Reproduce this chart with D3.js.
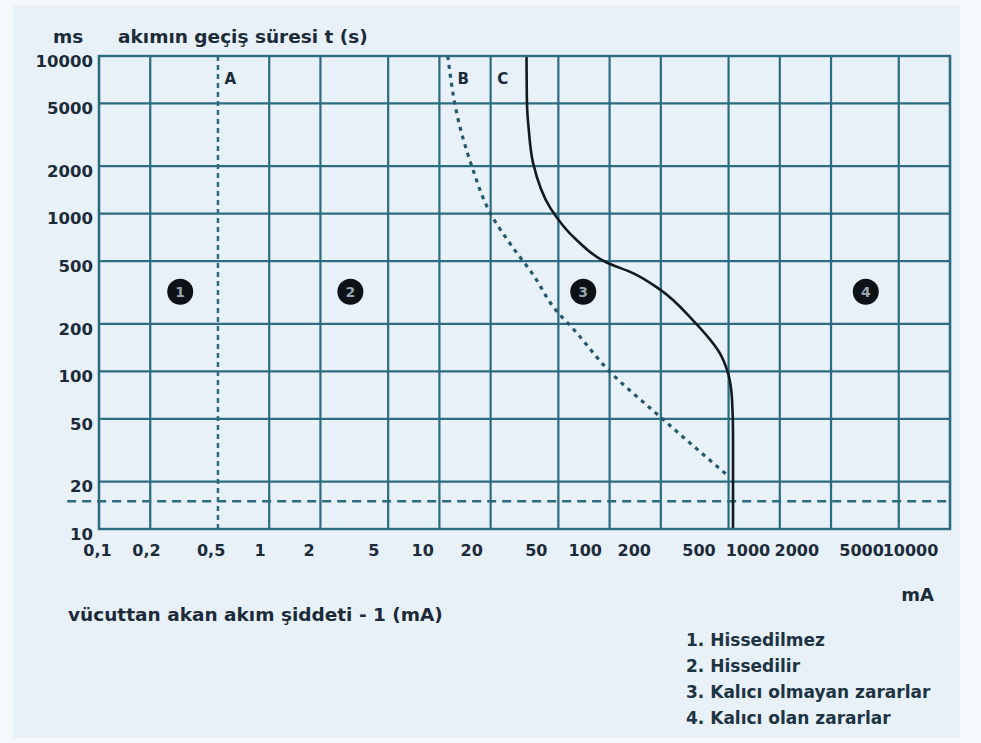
<!DOCTYPE html>
<html>
<head>
<meta charset="utf-8">
<script src="https://cdn.jsdelivr.net/npm/d3@7"></script>
<style>
  body { margin: 0; background: #f6f9fc; }
  text { font-family: "DejaVu Sans", sans-serif; font-weight: bold; fill: #1c2b38; }
</style>
</head>
<body>
<div id="container"></div>
<script>
// axis ticks (mA on x, ms on y)
const xTicks = [0.1, 0.2, 0.5, 1, 2, 5, 10, 20, 50, 100, 200, 500, 1000, 2000, 5000, 10000];
const yTicks = [10, 20, 50, 100, 200, 500, 1000, 2000, 5000, 10000];

// curve B (dotted)
const bCurrent = [11.2, 13, 15.5, 20, 27, 35, 49, 60, 100, 200, 490];
const bTime = [10000, 3800, 2000, 1000, 610, 420, 240, 190, 100, 51, 22];

// curve C (solid)
const cCurrent = [32.5, 32.7, 33.5, 35.5, 45, 64, 96, 137, 198, 310, 445, 497, 524, 531, 531];
const cTime = [10000, 5000, 3400, 2100, 1080, 680, 490, 420, 330, 210, 130, 97, 66, 40, 10];

// line A and the horizontal limit
const lineA = 0.5;
const limitTime = 15;
const limitFrom = 0.065;

// zone markers
const zoneNumbers = ["1", "2", "3", "4"];
const zoneCurrent = [0.3, 3, 70, 3200];
const zoneTime = 320;

// curve name labels
const curveNames = ["A", "B", "C"];
const curveNameCurrent = [0.59, 13.8, 23.6];
const curveNameTime = 7200;

const legendItems = ["1. Hissedilmez", "2. Hissedilir", "3. Kalıcı olmayan zararlar", "4. Kalıcı olan zararlar"];

const w = 981, h = 743;
const plotLeft = 99, plotRight = 950, plotTop = 56, plotBottom = 529;
const gridColor = "#2c6b80";

const xScale = d3.scaleLog().domain([0.1, 10000]).range([plotLeft, plotRight]);
const yScale = d3.scaleLog().domain([10, 10000]).range([plotBottom, plotTop]);
// tick labels in the picture sit a bit left of their lines
const xLabelScale = d3.scaleLog().domain([0.1, 10000]).range([97, 910]);

const svg = d3.select("#container").append("svg")
  .attr("width", w)
  .attr("height", h);

svg.append("rect")
  .attr("x", 13).attr("y", 5)
  .attr("width", 947).attr("height", 733)
  .attr("fill", "#e8f0f8");

// grid
svg.append("g").selectAll("line")
  .data(xTicks.filter(d => d !== lineA))
  .join("line")
  .attr("x1", d => xScale(d)).attr("x2", d => xScale(d))
  .attr("y1", yScale(10000)).attr("y2", yScale(10))
  .attr("stroke", gridColor).attr("stroke-width", 2.2);

svg.append("g").selectAll("line")
  .data(yTicks)
  .join("line")
  .attr("x1", xScale(0.1)).attr("x2", xScale(10000))
  .attr("y1", d => yScale(d)).attr("y2", d => yScale(d))
  .attr("stroke", gridColor).attr("stroke-width", 2.2);

// dashed lines
svg.append("line")
  .attr("x1", xScale(lineA)).attr("x2", xScale(lineA))
  .attr("y1", yScale(10000)).attr("y2", yScale(10))
  .attr("stroke", gridColor).attr("stroke-width", 2.5)
  .attr("stroke-dasharray", "5,4");

svg.append("line")
  .attr("x1", xScale(limitFrom)).attr("x2", xScale(10000))
  .attr("y1", yScale(limitTime)).attr("y2", yScale(limitTime))
  .attr("stroke", gridColor).attr("stroke-width", 2.5)
  .attr("stroke-dasharray", "9,6");

// curves
const line = d3.line()
  .x(d => xScale(d[0]))
  .y(d => yScale(d[1]))
  .curve(d3.curveMonotoneY);

svg.append("path")
  .datum(d3.zip(bCurrent, bTime))
  .attr("d", line)
  .attr("fill", "none")
  .attr("stroke", "#24586a")
  .attr("stroke-width", 3.2)
  .attr("stroke-dasharray", "4,5");

svg.append("path")
  .datum(d3.zip(cCurrent, cTime))
  .attr("d", line)
  .attr("fill", "none")
  .attr("stroke", "#111a20")
  .attr("stroke-width", 2.6);

// axes
const xAxis = d3.axisBottom(xLabelScale)
  .tickValues(xTicks)
  .tickSize(0)
  .tickPadding(16)
  .tickFormat(d => String(d).replace(".", ","));

const yAxis = d3.axisLeft(yScale)
  .tickValues(yTicks)
  .tickSize(0)
  .tickPadding(6)
  .tickFormat(d => String(d));

svg.append("g")
  .attr("transform", "translate(0," + plotBottom + ")")
  .call(xAxis)
  .attr("font-size", 16).attr("font-family", null)
  .call(g => g.select(".domain").remove());

svg.append("g")
  .attr("transform", "translate(" + plotLeft + ",0)")
  .call(yAxis)
  .attr("font-size", 16.5).attr("font-family", null)
  .call(g => g.select(".domain").remove())
  .call(g => g.selectAll("text").attr("y", 5));

// frame
svg.append("rect")
  .attr("x", xScale(0.1)).attr("y", yScale(10000))
  .attr("width", xScale(10000) - xScale(0.1))
  .attr("height", yScale(10) - yScale(10000))
  .attr("fill", "none")
  .attr("stroke", gridColor).attr("stroke-width", 2.4);

// zone markers
const zones = svg.append("g").selectAll("g")
  .data(zoneNumbers)
  .join("g")
  .attr("transform", (d, i) => "translate(" + xScale(zoneCurrent[i]) + "," + yScale(zoneTime) + ")");

zones.append("circle")
  .attr("r", 13)
  .attr("fill", "#0d1217");

zones.append("text")
  .attr("text-anchor", "middle")
  .attr("dy", "0.36em")
  .attr("font-size", 14)
  .style("fill", "#9aa7b2")
  .text(d => d);

// curve names
svg.append("g").selectAll("text")
  .data(curveNames)
  .join("text")
  .attr("x", (d, i) => xScale(curveNameCurrent[i]))
  .attr("y", yScale(curveNameTime))
  .attr("text-anchor", "middle")
  .attr("dy", "0.36em")
  .attr("font-size", 15)
  .text(d => d);

// titles
svg.append("text").attr("x", 53).attr("y", 43).attr("font-size", 18.5).text("ms");
svg.append("text").attr("x", 118).attr("y", 43).attr("font-size", 18.5).text("akımın geçiş süresi t (s)");
svg.append("text").attr("x", 934).attr("y", 601).attr("text-anchor", "end").attr("font-size", 18).text("mA");
svg.append("text").attr("x", 68).attr("y", 621).attr("font-size", 18.5).text("vücuttan akan akım şiddeti - 1 (mA)");

// legend
svg.append("g").selectAll("text")
  .data(legendItems)
  .join("text")
  .attr("x", 686)
  .attr("y", (d, i) => 646 + i * 26)
  .attr("font-size", 17)
  .style("fill", "#1d3442")
  .text(d => d);
</script>
</body>
</html>
